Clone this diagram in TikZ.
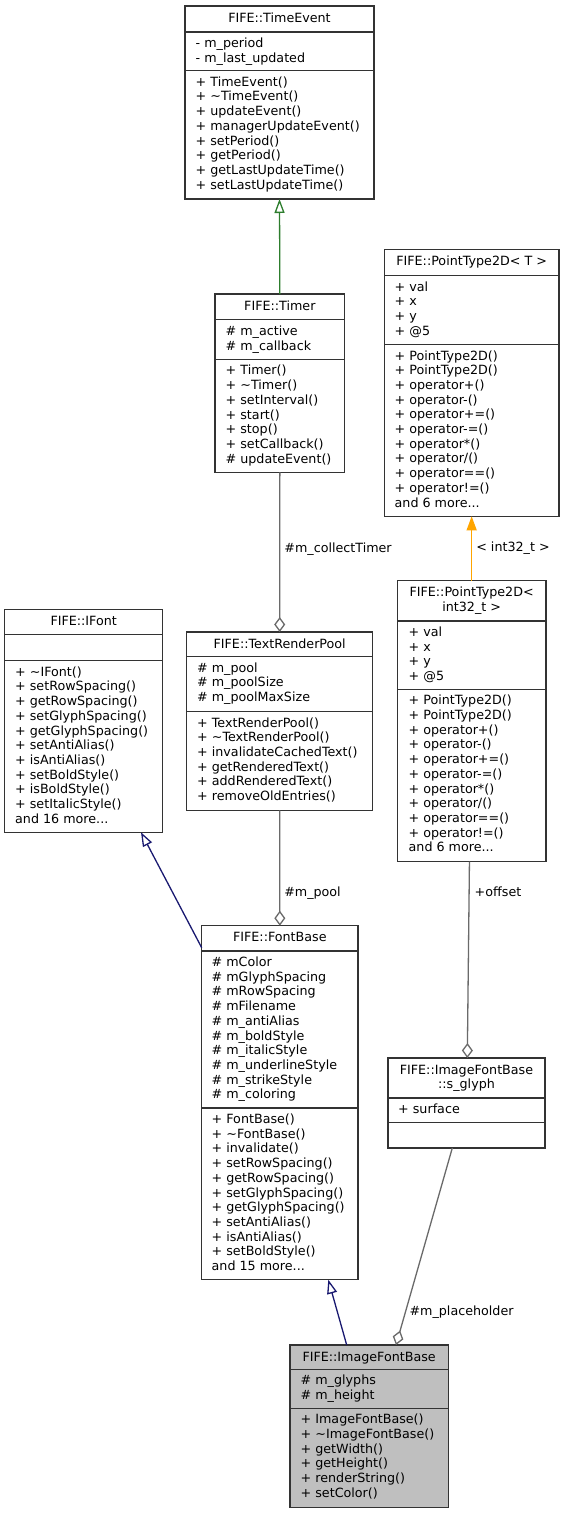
\documentclass[tikz,border=0pt]{standalone}
\usepackage{fontspec}
\setmainfont{DejaVu Sans}
\usetikzlibrary{arrows.meta}
\definecolor{edgegreen}{HTML}{2D7D2D}
\definecolor{edgenavy}{HTML}{191970}
\definecolor{edgegrey}{HTML}{6A6A6A}
\definecolor{edgeorange}{HTML}{FFA500}
\definecolor{boxline}{HTML}{333333}
\definecolor{selfill}{HTML}{BFBFBF}
\newcommand\threedots{...}
\newcommand\classbox[6]{%
  \node[cbox, fill=#6, anchor=north west, minimum width={(#4)-(#2)}, minimum height={(#5)-(#3)}] (#1) at (#2,#3) {};}
\newcommand\sepl[3]{\draw[cline] (#1,#3) -- (#2,#3);}
\newcommand\ttl[4]{\node[ttxt] (#1) at (#2,#3) {#4};}
\newcommand\mlines[4]{\foreach \t [count=\i] in {#4}{\node[txt] (#1\i) at (#2, #3+15.5+14.7*\i-14.7) {\t};}}
\begin{document}
\begin{tikzpicture}[x=1pt,y=-1pt,
  font=\fontsize{12.7}{14.7}\selectfont,
  cbox/.style={draw=boxline, line width=1.2pt, inner sep=0pt, outer sep=0pt},
  cline/.style={draw=boxline, line width=1.2pt},
  txt/.style={anchor=base west, inner sep=0pt},
  ttxt/.style={anchor=base, inner sep=0pt},
  lbl/.style={anchor=base west, inner sep=0pt},
  inhgreen/.style={draw=edgegreen, line width=1.3pt, -{Triangle[length=14pt,width=10pt,fill=white]}},
  inhnavy/.style={draw=edgenavy, line width=1.3pt, -{Triangle[length=14pt,width=10pt,fill=white]}},
  tmpl/.style={draw=edgeorange, line width=1.3pt, -{Triangle[length=14pt,width=10pt,fill=edgeorange]}},
  agg/.style={draw=edgegrey, line width=1.3pt, -{Diamond[length=15pt,width=11pt,fill=white]}}
]
\useasboundingbox (0,0) rectangle (565,1515);

% FIFE::TimeEvent
\classbox{te}{185}{6}{374}{199}{white}
\sepl{185}{374}{32}\sepl{185}{374}{70.7}
\ttl{te-t}{279.5}{22}{FIFE::TimeEvent}
\mlines{te-a}{195.5}{32}{- m\_period,- m\_last\_updated}
\mlines{te-m}{195.5}{70.7}{+ TimeEvent(),+ \textasciitilde TimeEvent(),+ updateEvent(),+ managerUpdateEvent(),+ setPeriod(),+ getPeriod(),+ getLastUpdateTime(),+ setLastUpdateTime()}

% FIFE::Timer
\classbox{tm}{215}{294}{344.7}{472.3}{white}
\sepl{215}{344.7}{319.8}\sepl{215}{344.7}{359.4}
\ttl{tm-t}{279.85}{310}{FIFE::Timer}
\mlines{tm-a}{225.5}{319.8}{\# m\_active,\# m\_callback}
\mlines{tm-m}{225.5}{359.4}{+ Timer(),+ \textasciitilde Timer(),+ setInterval(),+ start(),+ stop(),+ setCallback(),\# updateEvent()}

% FIFE::PointType2D< T >
\classbox{ptt}{384.3}{249.5}{559}{516.3}{white}
\sepl{384.3}{559}{275.5}\sepl{384.3}{559}{344.5}
\ttl{ptt-t}{471.65}{265.5}{FIFE::PointType2D< T >}
\mlines{ptt-a}{394.5}{275.5}{+ val,+ x,+ y,+ @5}
\mlines{ptt-m}{394.5}{344.5}{+ PointType2D(),+ PointType2D(),+ operator+(),+ operator-(),+ operator+=(),+ operator-=(),+ operator*(),+ operator/(),+ operator==(),+ operator!=(),and 6 more\threedots}

% FIFE::IFont
\classbox{ifo}{4.7}{609.5}{162.7}{832.3}{white}
\sepl{4.7}{162.7}{634.5}\sepl{4.7}{162.7}{660.7}
\ttl{ifo-t}{83.7}{625.5}{FIFE::IFont}
\mlines{ifo-m}{15}{660.7}{+ \textasciitilde IFont(),+ setRowSpacing(),+ getRowSpacing(),+ setGlyphSpacing(),+ getGlyphSpacing(),+ setAntiAlias(),+ isAntiAlias(),+ setBoldStyle(),+ isBoldStyle(),+ setItalicStyle(),and 16 more\threedots}

% FIFE::TextRenderPool
\classbox{trp}{186.7}{632}{372.7}{810.3}{white}
\sepl{186.7}{372.7}{656.7}\sepl{186.7}{372.7}{711.5}
\ttl{trp-t}{279.7}{648}{FIFE::TextRenderPool}
\mlines{trp-a}{197}{656.7}{\# m\_pool,\# m\_poolSize,\# m\_poolMaxSize}
\mlines{trp-m}{197}{711.5}{+ TextRenderPool(),+ \textasciitilde TextRenderPool(),+ invalidateCachedText(),+ getRenderedText(),+ addRenderedText(),+ removeOldEntries()}

% FIFE::PointType2D< int32_t >
\classbox{pti}{397.3}{580.7}{546}{861.5}{white}
\sepl{397.3}{546}{621}\sepl{397.3}{546}{689.3}
\ttl{pti-t1}{471.65}{596.7}{FIFE::PointType2D<}
\ttl{pti-t2}{471.65}{611}{int32\_t >}
\mlines{pti-a}{408.5}{621}{+ val,+ x,+ y,+ @5}
\mlines{pti-m}{408.5}{689.3}{+ PointType2D(),+ PointType2D(),+ operator+(),+ operator-(),+ operator+=(),+ operator-=(),+ operator*(),+ operator/(),+ operator==(),+ operator!=(),and 6 more\threedots}

% FIFE::FontBase
\classbox{fb}{201.7}{925.7}{358}{1279.7}{white}
\sepl{201.7}{358}{951}\sepl{201.7}{358}{1108}
\ttl{fb-t}{279.85}{941.7}{FIFE::FontBase}
\mlines{fb-a}{211.5}{951}{\# mColor,\# mGlyphSpacing,\# mRowSpacing,\# mFilename,\# m\_antiAlias,\# m\_boldStyle,\# m\_italicStyle,\# m\_underlineStyle,\# m\_strikeStyle,\# m\_coloring}
\mlines{fb-m}{211.5}{1108}{+ FontBase(),+ \textasciitilde FontBase(),+ invalidate(),+ setRowSpacing(),+ getRowSpacing(),+ setGlyphSpacing(),+ getGlyphSpacing(),+ setAntiAlias(),+ isAntiAlias(),+ setBoldStyle(),and 15 more\threedots}

% FIFE::ImageFontBase::s_glyph
\classbox{sg}{388}{1058}{545}{1148}{white}
\sepl{388}{545}{1098}\sepl{388}{545}{1122.7}
\ttl{sg-t1}{466.5}{1074}{FIFE::ImageFontBase}
\ttl{sg-t2}{466.5}{1088.5}{::s\_glyph}
\mlines{sg-a}{398}{1098}{+ surface}

% FIFE::ImageFontBase
\classbox{ifb}{290}{1345}{448.3}{1507.5}{selfill}
\sepl{290}{448.3}{1369.3}\sepl{290}{448.3}{1408.3}
\ttl{ifb-t}{369.15}{1361}{FIFE::ImageFontBase}
\mlines{ifb-a}{300.5}{1369.3}{\# m\_glyphs,\# m\_height}
\mlines{ifb-m}{300.5}{1408.3}{+ ImageFontBase(),+ \textasciitilde ImageFontBase(),+ getWidth(),+ getHeight(),+ renderString(),+ setColor()}

% connectors
\draw[inhgreen] (tm.north) -- (te.south);
\draw[agg] (tm.south) -- node[lbl, pos=0.5, xshift=4pt] {\#m\_collectTimer} (trp.north);
\draw[tmpl] (pti.north) -- node[lbl, pos=0.45, xshift=4pt] {< int32\_t >} (ptt.south);
\draw[agg] (trp.south) -- node[lbl, pos=0.743, xshift=3.8pt] {\#m\_pool} (fb.north);
\draw[agg] ([xshift=-2.2pt]pti.south) -- node[lbl, pos=0.176, xshift=5pt] {+offset} ([xshift=0.8pt]sg.north);
\draw[inhnavy] ([yshift=-22pt]fb.north west) -- ([xshift=-21.7pt]ifo.south east);
\draw[inhnavy] ([xshift=56.7pt]ifb.north west) -- ([xshift=126.6pt]fb.south west);
\draw[agg] ([xshift=64.3pt]sg.south west) -- node[lbl, pos=0.851, xshift=4.5pt] {\#m\_placeholder} ([xshift=106pt]ifb.north west);
\end{tikzpicture}
\end{document}
